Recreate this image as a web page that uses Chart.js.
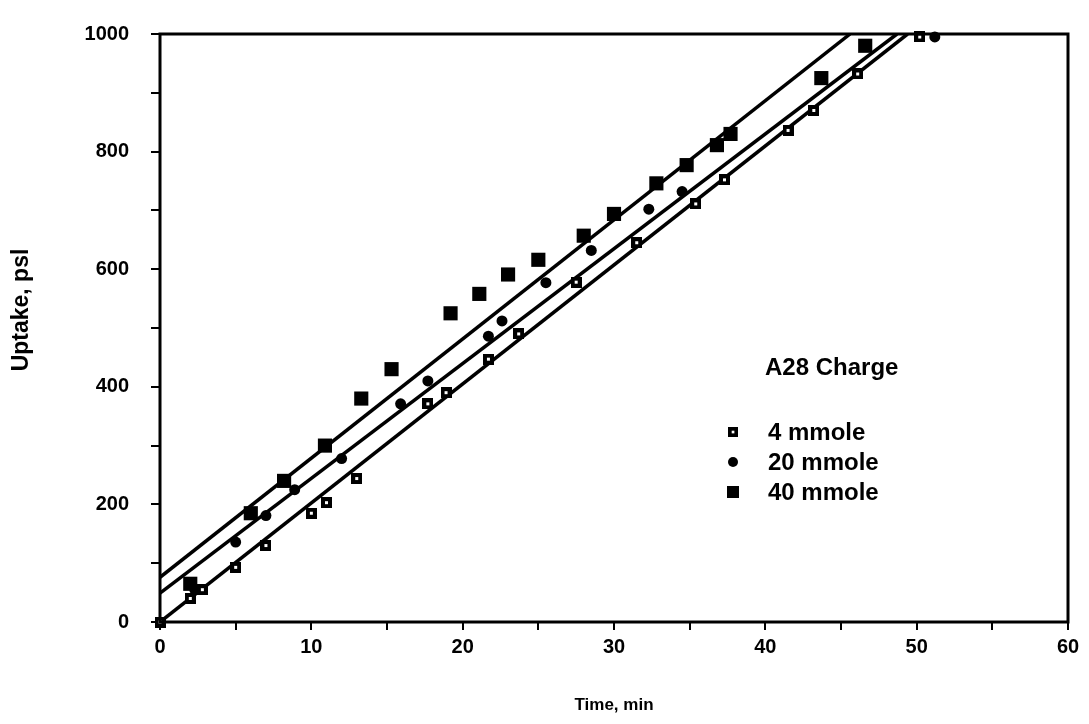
<!DOCTYPE html>
<html>
<head>
<meta charset="utf-8">
<script src="https://cdn.jsdelivr.net/npm/chart.js@4.4.1/dist/chart.umd.min.js"></script>
<style>
  html, body { margin: 0; padding: 0; background: #fff; }
  #wrap { width: 1089px; height: 724px; }
</style>
</head>
<body>
<div id="wrap"><canvas id="uptakeChart" width="1089" height="724"></canvas></div>
<script>
// series
const seriesNames = ['4 mmole', '20 mmole', '40 mmole'];
const legendTitle = 'A28 Charge';
const yTitle = 'Uptake, psl';

const time4 = [0, 2, 2.8, 5, 7, 10, 11, 13, 17.7, 18.9, 21.7, 23.7, 27.5, 31.5, 35.4, 37.3, 41.5, 43.2, 46.1, 50.2];
const uptake4 = [0, 40, 55, 93, 130, 185, 203, 244, 371, 390, 447, 490, 578, 645, 711, 752, 836, 870, 932, 995];

const time20 = [2.3, 5, 7, 8.9, 12, 15.9, 17.7, 21.7, 22.6, 25.5, 28.5, 32.3, 34.5, 51.2];
const uptake20 = [55, 136, 181, 225, 278, 371, 410, 486, 512, 577, 632, 702, 732, 995];

const time40 = [2, 6, 8.2, 10.9, 13.3, 15.3, 19.2, 21.1, 23, 25, 28, 30, 32.8, 34.8, 36.8, 37.7, 43.7, 46.6];
const uptake40 = [65, 185, 240, 300, 380, 430, 525, 558, 591, 616, 657, 694, 746, 777, 811, 830, 925, 980];

// fitted lines: uptake at t = 0 and the time where each reaches 1000 psl
const fitStartUptake = [0, 49, 76];
const fitEndTime = [49.4, 48.7, 45.6];
const fitEndUptake = 1000;

const xMax = 60, xStep = 5, xLabelEvery = 10;
const yMax = 1000, yStep = 100, yLabelEvery = 200;

const FONT = '"Liberation Sans", Arial, sans-serif';

function toPoints(xs, ys) {
  return xs.map((x, i) => ({ x: x, y: ys[i] }));
}

// small black square with a white centre, as used for 4 mmole
function dotSquare(size) {
  const c = document.createElement('canvas');
  c.width = size; c.height = size;
  const g = c.getContext('2d');
  g.fillStyle = '#000';
  g.fillRect(0, 0, size, size);
  g.fillStyle = '#fff';
  g.fillRect(size / 2 - 1.5, size / 2 - 1.5, 3, 3);
  return c;
}

const markers = [
  { style: dotSquare(11), radius: 6 },
  { style: 'circle', radius: 5.5 },
  { style: 'rect', radius: 10 }
];

const pointSets = [
  toPoints(time4, uptake4),
  toPoints(time20, uptake20),
  toPoints(time40, uptake40)
];

const datasets = [];
pointSets.forEach((pts, i) => {
  datasets.push({
    type: 'scatter',
    label: seriesNames[i],
    data: pts,
    pointStyle: markers[i].style,
    pointRadius: markers[i].radius,
    pointHoverRadius: markers[i].radius,
    backgroundColor: '#000',
    borderColor: '#000',
    borderWidth: 0,
    clip: false
  });
});
fitStartUptake.forEach((y0, i) => {
  datasets.push({
    type: 'line',
    label: seriesNames[i] + ' fit',
    data: [{ x: 0, y: y0 }, { x: fitEndTime[i], y: fitEndUptake }],
    borderColor: '#000',
    borderWidth: 3.5,
    pointRadius: 0,
    fill: false,
    tension: 0
  });
});

const frame = {
  id: 'frame',
  beforeDraw(chart) {
    const ctx = chart.ctx;
    ctx.save();
    ctx.fillStyle = '#fff';
    ctx.fillRect(0, 0, chart.width, chart.height);
    ctx.restore();
  },
  afterDraw(chart) {
    const a = chart.chartArea;
    const ctx = chart.ctx;
    ctx.save();
    ctx.strokeStyle = '#000';
    ctx.lineWidth = 3;
    ctx.strokeRect(a.left, a.top, a.right - a.left, a.bottom - a.top);
    // y axis title, sits a little above the middle of the axis
    ctx.translate(22, 310);
    ctx.rotate(-Math.PI / 2);
    ctx.fillStyle = '#000';
    ctx.font = 'bold 23px ' + FONT;
    ctx.textAlign = 'center';
    ctx.textBaseline = 'middle';
    ctx.fillText(yTitle, 0, 0);
    ctx.restore();
  }
};

const legendBox = {
  id: 'legendBox',
  afterDraw(chart) {
    const ctx = chart.ctx;
    ctx.save();
    ctx.fillStyle = '#000';
    ctx.textBaseline = 'middle';
    ctx.font = 'bold 24px ' + FONT;
    ctx.fillText(legendTitle, 765, 368);
    ctx.font = 'bold 24px ' + FONT;
    seriesNames.forEach((name, i) => {
      const y = 432 + i * 30;
      const mx = 733;
      if (i === 0) {
        ctx.drawImage(markers[0].style, mx - 5, y - 5, 10, 10);
      } else if (i === 1) {
        ctx.beginPath();
        ctx.arc(mx, y, 5, 0, Math.PI * 2);
        ctx.fill();
      } else {
        ctx.fillRect(mx - 6, y - 6, 12, 12);
      }
      ctx.fillText(name, 768, y + 1);
    });
    ctx.restore();
  }
};

new Chart(document.getElementById('uptakeChart'), {
  type: 'scatter',
  data: { datasets: datasets },
  options: {
    responsive: false,
    animation: false,
    devicePixelRatio: 1,
    layout: { padding: { left: 10, right: 21, top: 33, bottom: 8 } },
    plugins: {
      legend: { display: false },
      tooltip: { enabled: false }
    },
    scales: {
      x: {
        type: 'linear',
        min: 0,
        max: xMax,
        border: { display: false },
        grid: { drawOnChartArea: false, drawTicks: true, tickLength: 8, tickColor: '#000', lineWidth: 2 },
        ticks: {
          stepSize: xStep,
          color: '#000',
          padding: 5,
          maxRotation: 0,
          autoSkip: false,
          font: { family: FONT, size: 20, weight: 'bold' },
          callback: (v) => (v % xLabelEvery === 0 ? v : '')
        },
        title: {
          display: true,
          text: 'Time, min',
          color: '#000',
          padding: { top: 28, bottom: 0 },
          font: { family: FONT, size: 17, weight: 'bold' }
        },
        afterFit: (s) => { s.height = 94; }
      },
      y: {
        type: 'linear',
        min: 0,
        max: yMax,
        border: { display: false },
        grid: { drawOnChartArea: false, drawTicks: true, tickLength: 9, tickColor: '#000', lineWidth: 2 },
        ticks: {
          stepSize: yStep,
          color: '#000',
          padding: 22,
          autoSkip: false,
          font: { family: FONT, size: 20, weight: 'bold' },
          callback: (v) => (v % yLabelEvery === 0 ? v : '')
        },
        afterFit: (s) => { s.width = 150; }
      }
    }
  },
  plugins: [frame, legendBox]
});
</script>
</body>
</html>
